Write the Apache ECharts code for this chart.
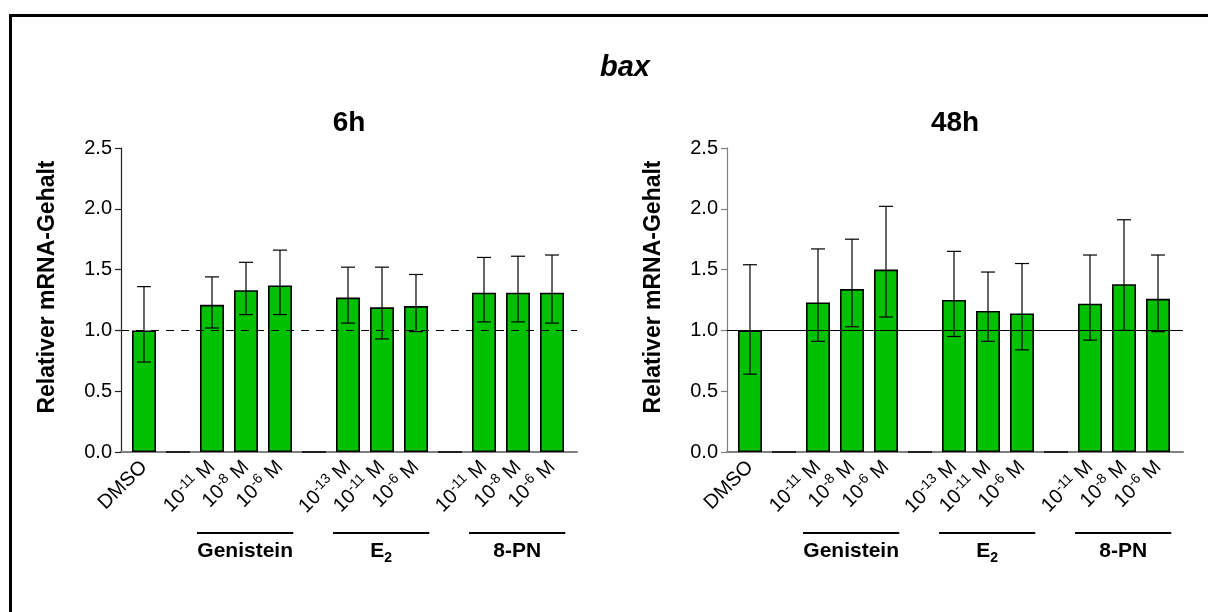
<!DOCTYPE html>
<html>
<head>
<meta charset="utf-8">
<script src="https://cdn.jsdelivr.net/npm/echarts@6/dist/echarts.min.js"></script>
<style>html,body{margin:0;padding:0;background:#fff}#c{width:1208px;height:612px}</style>
</head>
<body>
<div id="c"></div>
<script>
// ---- data ----
const categories = ['DMSO', '', '10^-11 M', '10^-8 M', '10^-6 M', '', '10^-13 M', '10^-11 M', '10^-6 M', '', '10^-11 M', '10^-8 M', '10^-6 M'];
const mean6h  = [1.00, 0, 1.21, 1.33, 1.37, 0, 1.27, 1.19, 1.20, 0, 1.31, 1.31, 1.31];
const hi6h    = [1.36, null, 1.44, 1.56, 1.66, null, 1.52, 1.52, 1.46, null, 1.60, 1.61, 1.62];
const lo6h    = [0.74, null, 1.02, 1.13, 1.13, null, 1.06, 0.93, 0.99, null, 1.07, 1.07, 1.06];
const mean48h = [1.00, 0, 1.23, 1.34, 1.50, 0, 1.25, 1.16, 1.14, 0, 1.22, 1.38, 1.26];
const hi48h   = [1.54, null, 1.67, 1.75, 2.02, null, 1.65, 1.48, 1.55, null, 1.62, 1.91, 1.62];
const lo48h   = [0.64, null, 0.91, 1.03, 1.11, null, 0.95, 0.91, 0.84, null, 0.92, 1.00, 0.99];
const groupNames = ['Genistein', 'E_2', '8-PN'];
const groupFrom  = [2, 6, 10];
const groupTo    = [4, 8, 12];
const yTicks = [0, 0.5, 1.0, 1.5, 2.0, 2.5];
const panelTitles = ['6h', '48h'];
const mainTitle = 'bax';
const yName = 'Relativer mRNA-Gehalt';

// ---- chart ----
const FONT = '"Liberation Sans", Arial, Helvetica, sans-serif';
const GREEN = '#00C000';
const chart = echarts.init(document.getElementById('c'), null, {renderer: 'canvas'});

function fmtLabel(v) {
  const s = categories[Math.round(v)] || '';
  const m = s.match(/^10\^(-?\d+) M$/);
  if (m) return '{n|10}{s|' + m[1] + '}{n| M}';
  return s ? '{n|' + s + '}' : '';
}
function fmtGroup(s) {
  const m = s.match(/^(.*)_(\d+)$/);
  if (m) return '{g|' + m[1] + '}{sub|' + m[2] + '}';
  return '{g|' + s + '}';
}

const panels = [
  {mean: mean6h, hi: hi6h, lo: lo6h, dashed: true, axisColor: '#222'},
  {mean: mean48h, hi: hi48h, lo: lo48h, dashed: false, axisColor: '#808080'}
];

const xAxes = [], yAxes = [], series = [];
panels.forEach((p, gi) => {
  xAxes.push({
    gridIndex: gi, type: 'value', min: -0.676, max: 12.735,
    splitLine: {show: false}, axisTick: {show: false},
    axisLine: {onZero: false, lineStyle: {color: '#808080', width: 2}},
    axisLabel: {
      customValues: categories.map((c, i) => i),
      rotate: 45, margin: 12, color: '#000',
      formatter: fmtLabel,
      rich: {
        n: {fontSize: 20, fontFamily: FONT, color: '#000', lineHeight: 24},
        s: {fontSize: 14, fontFamily: FONT, color: '#000', verticalAlign: 'top', lineHeight: 24}
      }
    }
  });
  yAxes.push({
    gridIndex: gi, type: 'value', min: yTicks[0], max: yTicks[yTicks.length - 1], interval: 0.5,
    splitLine: {show: false},
    axisLine: {show: true, onZero: false, lineStyle: {color: p.axisColor, width: 1.2}},
    axisTick: {show: true, length: 6, lineStyle: {color: p.axisColor, width: 1.2}},
    axisLabel: {margin: 9, color: '#000', fontSize: 20, fontFamily: FONT, formatter: v => v.toFixed(1)}
  });
  series.push({
    type: 'bar', xAxisIndex: gi, yAxisIndex: gi, barWidth: 24,
    data: p.mean.map((v, i) => [i, v]),
    itemStyle: {color: GREEN, borderColor: '#000', borderWidth: 1.6},
    z: 2,
    markLine: {
      silent: true, symbol: 'none', label: {show: false},
      lineStyle: {color: '#000', width: 1.2, type: p.dashed ? [8, 7] : 'solid'},
      data: [{yAxis: 1}]
    }
  });
  series.push({
    type: 'custom', xAxisIndex: gi, yAxisIndex: gi, z: 5, clip: false,
    data: p.mean.map((v, i) => [i, p.lo[i], p.hi[i]]).filter(d => d[1] != null),
    renderItem: function (params, api) {
      const x = api.value(0);
      const a = api.coord([x, api.value(1)]);
      const b = api.coord([x, api.value(2)]);
      const w = 7;
      const st = {stroke: '#000', lineWidth: 1.2};
      return {type: 'group', children: [
        {type: 'line', shape: {x1: a[0], y1: a[1], x2: b[0], y2: b[1]}, style: st},
        {type: 'line', shape: {x1: a[0] - w, y1: a[1], x2: a[0] + w, y2: a[1]}, style: st},
        {type: 'line', shape: {x1: b[0] - w, y1: b[1], x2: b[0] + w, y2: b[1]}, style: st}
      ]};
    }
  });
  series.push({
    type: 'custom', xAxisIndex: gi, yAxisIndex: gi, z: 5, clip: false, silent: true,
    data: groupFrom.map((f, i) => [f, groupTo[i]]),
    renderItem: function (params, api) {
      const a = api.coord([api.value(0) - 0.44, 0]);
      const b = api.coord([api.value(1) + 0.39, 0]);
      const yl = a[1] + 81;
      return {type: 'group', children: [
        {type: 'line', shape: {x1: a[0], y1: yl, x2: b[0], y2: yl}, style: {stroke: '#000', lineWidth: 2}},
        {type: 'text', x: (a[0] + b[0]) / 2, y: a[1] + 99, style: {
          text: fmtGroup(groupNames[params.dataIndex]), align: 'center', verticalAlign: 'middle',
          rich: {
            g: {fontSize: 21, fontWeight: 'bold', fontFamily: FONT, fill: '#000', lineHeight: 24},
            sub: {fontSize: 14, fontWeight: 'bold', fontFamily: FONT, fill: '#000', verticalAlign: 'bottom', lineHeight: 28}
          }
        }}
      ]};
    }
  });
});

const option = {
  backgroundColor: '#fff',
  animation: false,
  grid: [
    {left: 121, right: 631, top: 148, bottom: 160},
    {left: 727, right: 25, top: 148, bottom: 160}
  ],
  xAxis: xAxes,
  yAxis: yAxes,
  series: series,
  graphic: [
    {type: 'rect', shape: {x: 10.5, y: 15.5, width: 1400, height: 800}, style: {fill: 'none', stroke: '#000', lineWidth: 3}, silent: true},
    {type: 'text', x: 625, y: 68, style: {text: mainTitle, font: 'italic bold 29px ' + FONT, fill: '#000', align: 'center', verticalAlign: 'middle'}},
    {type: 'text', x: 349, y: 123, style: {text: panelTitles[0], font: 'bold 28px ' + FONT, fill: '#000', align: 'center', verticalAlign: 'middle'}},
    {type: 'text', x: 955, y: 123, style: {text: panelTitles[1], font: 'bold 28px ' + FONT, fill: '#000', align: 'center', verticalAlign: 'middle'}},
    {type: 'text', x: 48, y: 287, rotation: Math.PI / 2, style: {text: yName, font: 'bold 23px ' + FONT, fill: '#000', align: 'center', verticalAlign: 'middle'}},
    {type: 'text', x: 654, y: 287, rotation: Math.PI / 2, style: {text: yName, font: 'bold 23px ' + FONT, fill: '#000', align: 'center', verticalAlign: 'middle'}}
  ]
};
chart.setOption(option);
</script>
</body>
</html>
